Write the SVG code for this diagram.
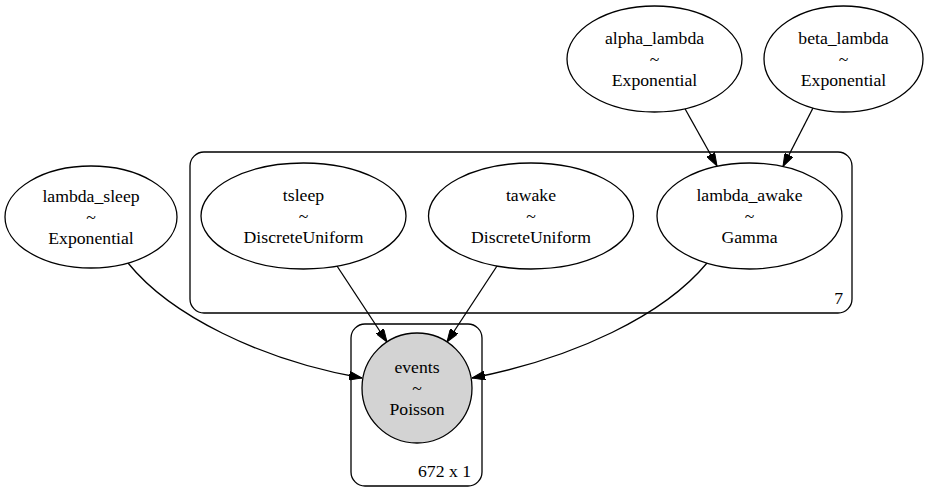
<svg xmlns="http://www.w3.org/2000/svg" width="932" height="503" viewBox="0 0 932 503">
<style>
text{font-family:"Liberation Serif","Times New Roman",serif;font-size:17.7px;fill:#000;text-anchor:middle}
.n{fill:#fff;stroke:#000;stroke-width:1.3}
.c{fill:none;stroke:#000;stroke-width:1.3}
.e{fill:none;stroke:#000;stroke-width:1.3;marker-end:url(#ah)}
.lab{text-anchor:end}
</style>
<defs>
<marker id="ah" viewBox="0 0 13 9" refX="13" refY="4.5" markerWidth="13" markerHeight="9" markerUnits="userSpaceOnUse" orient="auto">
<path d="M0,0 L13,4.5 L0,9 z" fill="#000" stroke="#000" stroke-width="1"/>
</marker>
</defs>
<rect width="932" height="503" fill="#fff"/>
<g id="plate_7">
<rect class="c" x="190" y="152" width="662" height="161" rx="14"/>
<text class="lab" x="843" y="304">7</text>
</g>
<g id="plate_672x1">
<rect class="c" x="351" y="324" width="131" height="162" rx="14"/>
<text class="lab" x="471" y="477">672 x 1</text>
</g>
<g id="connectors">
<path class="e" d="M685,108.7 L717,166"/>
<path class="e" d="M813,108 L783,166.5"/>
<path class="e" d="M337,266 L387,342"/>
<path class="e" d="M497,266 L447,342"/>
<path class="e" d="M128,263 C170,315 260,360 362,378"/>
<path class="e" d="M707,263 C664,315 575,358 472,378"/>
</g>
<g id="alpha_lambda">
<ellipse class="n" cx="654.5" cy="59" rx="87.5" ry="53"/>
<text x="654.5" y="44">alpha_lambda</text>
<text x="654.5" y="65">~</text>
<text x="654.5" y="86">Exponential</text>
</g>
<g id="beta_lambda">
<ellipse class="n" cx="843.5" cy="59" rx="79.5" ry="53"/>
<text x="843.5" y="44">beta_lambda</text>
<text x="843.5" y="65">~</text>
<text x="843.5" y="86">Exponential</text>
</g>
<g id="lambda_sleep">
<ellipse class="n" cx="91" cy="217" rx="86" ry="51"/>
<text x="91" y="202">lambda_sleep</text>
<text x="91" y="223">~</text>
<text x="91" y="244">Exponential</text>
</g>
<g id="tsleep">
<ellipse class="n" cx="303.5" cy="216" rx="102.5" ry="53"/>
<text x="303.5" y="201">tsleep</text>
<text x="303.5" y="222">~</text>
<text x="303.5" y="243">DiscreteUniform</text>
</g>
<g id="tawake">
<ellipse class="n" cx="531" cy="216" rx="102.5" ry="53"/>
<text x="531" y="201">tawake</text>
<text x="531" y="222">~</text>
<text x="531" y="243">DiscreteUniform</text>
</g>
<g id="lambda_awake">
<ellipse class="n" cx="749.5" cy="216" rx="92.5" ry="53"/>
<text x="749.5" y="201">lambda_awake</text>
<text x="749.5" y="222">~</text>
<text x="749.5" y="243">Gamma</text>
</g>
<g id="events">
<circle cx="417" cy="388" r="55" fill="#d3d3d3" stroke="#000" stroke-width="1.3"/>
<text x="417" y="373">events</text>
<text x="417" y="394">~</text>
<text x="417" y="415">Poisson</text>
</g>
</svg>
